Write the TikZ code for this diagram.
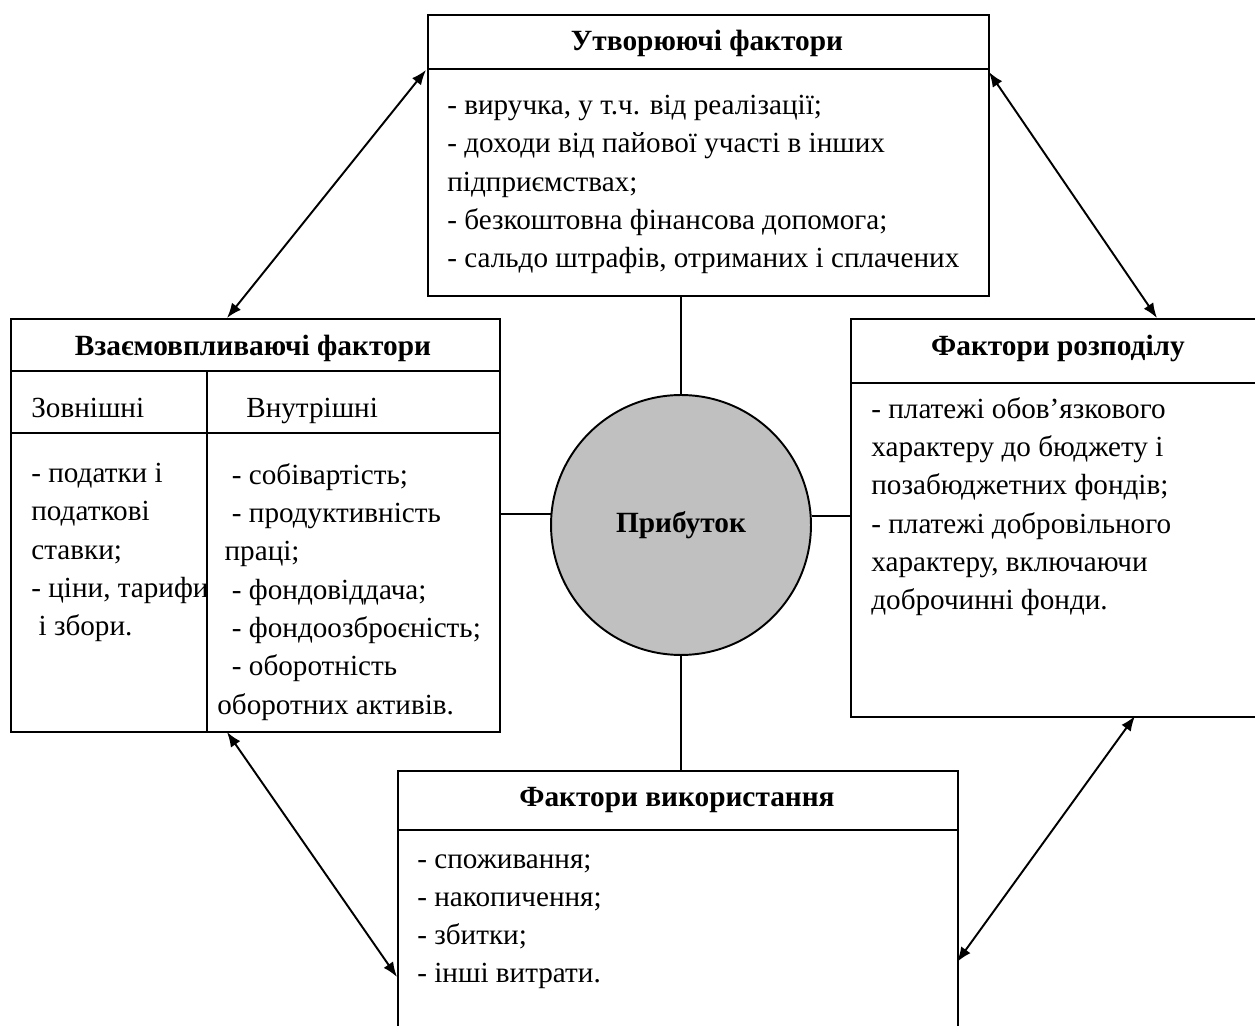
\documentclass[tikz,border=0pt]{standalone}
\usepackage{fontspec}
\setmainfont{Liberation Serif}
\usetikzlibrary{arrows.meta}
\usetikzlibrary{positioning}

\tikzset{
	box/.style={draw, line width=1.1pt, inner sep=0pt, anchor=north west},
	txt/.style={anchor=north west, inner sep=0pt, align=left, font=\fontsize{16.6}{21.8}\selectfont},
	head/.style={inner sep=0pt, font=\fontsize{16.7}{20}\selectfont\bfseries},
	link/.style={line width=1.1pt},
	twoway/.style={line width=1.1pt, {Latex[length=8.5pt,width=6.5pt]}-{Latex[length=8.5pt,width=6.5pt]}}
}

\begin{document}
\begin{tikzpicture}[x=0.02cm, y=-0.02cm]
	\useasboundingbox (0,0) rectangle (1255,1026);

	% Boxes
	\node[box, minimum width=11.22cm, minimum height=5.62cm] (top) at (427,14) {};
	\node[box, minimum width=9.78cm, minimum height=8.26cm] (left) at (10,318) {};
	\node[box, minimum width=8.24cm, minimum height=7.96cm] (right) at (850,318) {};
	\node[box, minimum width=11.2cm, minimum height=5.4cm] (bot) at (397,770) {};

	% Dividers
	\draw[link] (427,69) -- (988,69);
	\draw[link] (10,371) -- (499,371);
	\draw[link] (10,433) -- (499,433);
	\draw[link] (207,371) -- (207,731);
	\draw[link] (850,383) -- (1262,383);
	\draw[link] (397,830) -- (957,830);

	% Centre
	\node[circle, draw, line width=1.1pt, fill={rgb,255:red,192;green,192;blue,192}, minimum size=5.2cm, inner sep=0pt,
		font=\fontsize{16.7}{20}\selectfont\bfseries] (profit) at (681,525) {Прибуток};

	% Titles
	\node[head] (topH) at (707,43) {Утворюючі фактори};
	\node[head] (leftH) at (253,348) {Взаємовпливаючі фактори};
	\node[head] (rightH) at (1058,348) {Фактори розподілу};
	\node[head] (botH) at (677,800) {Фактори використання};

	% Texts
	\node[txt] (topT) at (447,95) {- виручка, у т.ч. від реалізації;\\
		- доходи від пайової участі в інших\\
		підприємствах;\\
		- безкоштовна фінансова допомога;\\
		- сальдо штрафів, отриманих і сплачених};
	\node[txt] (extH) at (31,398) {Зовнішні};
	\node[txt] (intH) at (246,398) {Внутрішні};
	\node[txt] (extT) at (31,463) {- податки і\\
		податкові\\
		ставки;\\
		- ціни, тарифи\\
		\ і збори.};
	\node[txt] (intT) at (217,463) {\ \ - собівартість;\\
		\ \ - продуктивність\\
		\ праці;\\
		\ \ - фондовіддача;\\
		\ \ - фондоозброєність;\\
		\ \ - оборотність\\
		оборотних активів.};
	\node[txt] (rightT) at (871,397) {- платежі обов'язкового\\
		характеру до бюджету і\\
		позабюджетних фондів;\\
		- платежі добровільного\\
		характеру, включаючи\\
		доброчинні фонди.};
	\node[txt] (botT) at (417,854) {- споживання;\\
		- накопичення;\\
		- збитки;\\
		- інші витрати.};

	% Links to the centre
	\draw[link] (profit.north) -- (profit.north |- top.south);
	\draw[link] (profit.south) -- (profit.south |- bot.north);
	\draw[link] (profit.175.6) -- (profit.175.6 -| left.east);
	\draw[link] (profit.4.4) -- (profit.4.4 -| right.west);

	% Arrow ends
	\coordinate (a1) at (426,70);
	\coordinate (a2) at (227,318);
	\coordinate (b1) at (989,72);
	\coordinate (b2) at (1157,318);
	\coordinate (c1) at (227,732);
	\coordinate (c2) at (397,977);
	\coordinate (d1) at (1135,716);
	\coordinate (d2) at (957,962);

	% Arrows
	\draw[twoway] (a1) -- (a2);
	\draw[twoway] (b1) -- (b2);
	\draw[twoway] (c1) -- (c2);
	\draw[twoway] (d1) -- (d2);
\end{tikzpicture}
\end{document}
